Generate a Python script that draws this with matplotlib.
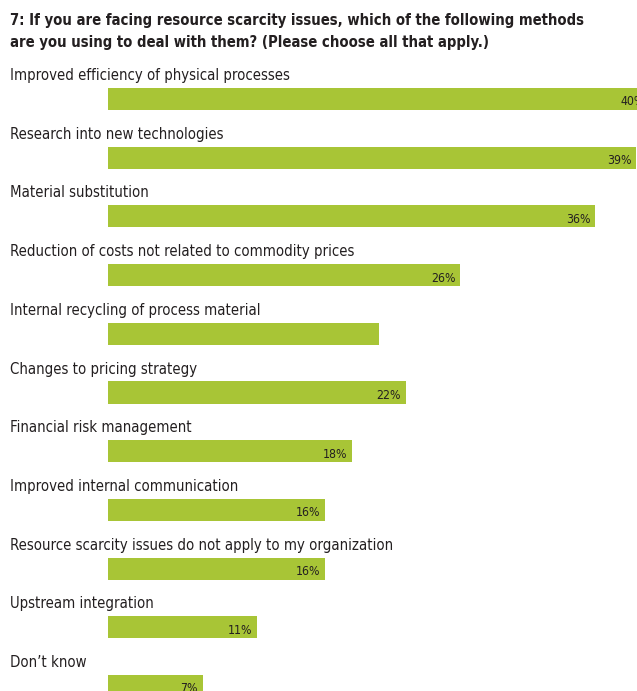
import matplotlib
matplotlib.use("Agg")
import matplotlib.pyplot as plt

# Survey question 7: methods used against resource scarcity (share of respondents, %)
title_lines = [
    "7: If you are facing resource scarcity issues, which of the following methods",
    "are you using to deal with them? (Please choose all that apply.)",
]

methods = [
    "Improved efficiency of physical processes",
    "Research into new technologies",
    "Material substitution",
    "Reduction of costs not related to commodity prices",
    "Internal recycling of process material",
    "Changes to pricing strategy",
    "Financial risk management",
    "Improved internal communication",
    "Resource scarcity issues do not apply to my organization",
    "Upstream integration",
    "Don\u2019t know",
]
shares = [40, 39, 36, 26, 20, 22, 18, 16, 16, 11, 7]
# the recycling bar carries no printed value
show_value = [True, True, True, True, False, True, True, True, True, True, True]

bar_color = "#a8c536"
text_color = "#231f20"
font = "DejaVu Sans"

fig = plt.figure(figsize=(6.37, 6.91), dpi=100)
ax = fig.add_axes([0, 0, 1, 1])

pos = list(range(len(methods)))
ax.barh(pos, shares, height=0.375, left=0, color=bar_color, edgecolor="none")

for i, (name, val, show) in enumerate(zip(methods, shares, show_value)):
    ax.text(-7.26, i - 0.40, name, ha="left", va="center", fontsize=10.7,
            fontstretch="condensed", color=text_color, family=font)
    if show:
        ax.text(val - 0.35, i + 0.05, "{0}%".format(val), ha="right", va="center",
                fontsize=8.8, fontstretch="condensed", color=text_color, family=font)

for k, line in enumerate(title_lines):
    fig.text(10 / 637, 1 - (20 + 22 * k) / 691, line, ha="left", va="center",
             fontsize=10.6, fontweight="bold", fontstretch="condensed",
             color=text_color, family=font)

ax.set_xlim(-108 / 13.54, 529 / 13.54)
ax.set_ylim(592 / 58.7, -99 / 58.7)
ax.axis("off")

fig.savefig("out.png", dpi=100)
